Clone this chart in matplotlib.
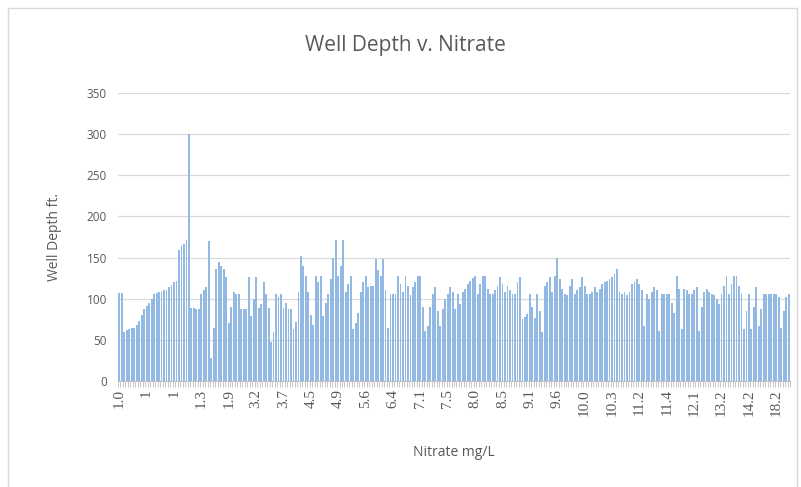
import matplotlib.pyplot as plt
from matplotlib.patches import Rectangle
import numpy as np

# Profundidad de pozos (ft), ordenados por nitrato (lectura aproximada de la imagen)
depth_a = [107, 107, 60, 62, 63, 64, 65, 68, 73, 80,
           87, 91, 95, 100, 106, 107, 108, 108, 110, 111,
           114, 117, 120, 122, 159, 164, 167, 171, 300,
           89, 89, 88, 87, 106, 110, 114, 170, 28, 64,
           136, 145, 140, 136, 126, 71, 90, 108, 106, 106,
           88, 87, 87, 126, 79, 100, 126, 89, 93, 120,
           106, 89, 47, 60, 106, 102, 106, 89, 95, 87]
depth_b = [87, 63, 72, 108, 152, 140, 128, 108, 80, 68,
           128, 120, 128, 79, 95, 106, 124, 150, 171, 128,
           140, 171, 108, 118, 128, 63, 70, 83, 108, 120,
           128, 114, 116, 116, 148, 135, 128, 148, 110, 65,
           106, 106, 106, 128, 118, 108, 128, 115, 104, 114,
           120, 128, 128, 90, 61, 67, 90, 106, 114, 85,
           67, 87, 100, 106, 114, 108, 87, 106]
depth_c = [93, 108, 112, 118, 122, 125, 128, 106, 118, 128,
           128, 112, 106, 106, 110, 116, 126, 118, 108, 116,
           110, 106, 106, 120, 126, 75, 78, 81, 106, 90,
           77, 106, 85, 60, 116, 120, 126, 108, 128, 150,
           124, 112, 106, 104, 115, 124, 106, 110, 114, 126,
           116, 106, 106, 108, 114, 108, 112, 118, 120, 122,
           124, 126, 130, 136, 108, 106, 108, 104]
depth_d = [108, 118, 120, 124, 118, 110, 67, 106, 100, 108,
           114, 110, 61, 106, 106, 106, 106, 95, 83, 128,
           112, 63, 112, 110, 106, 106, 110, 114, 61, 90,
           108, 112, 108, 106, 104, 100, 93, 106, 116, 128,
           106, 118, 128, 128, 115, 106, 63, 85, 106, 63,
           90, 114, 67, 88, 106, 106, 106, 106, 106, 106,
           102, 65, 85, 102, 106]

depth = depth_a + depth_b + depth_c + depth_d

# Etiquetas visibles del eje x (una cada 11 categorias)
etiquetas = ["1.0", "1", "1", "1.3", "1.9", "3.2", "3.7", "4.5", "4.9", "5.6",
             "6.4", "7.1", "7.5", "8.0", "8.5", "9.1", "9.6", "10.0", "10.3",
             "11.2", "11.4", "12.1", "13.2", "14.2", "18.2"]
paso = 11

gris = "#595959"

fig = plt.figure(figsize=(8.01, 4.87), dpi=100)
ax = fig.add_axes([118 / 801, 1 - 381 / 487, 672 / 801, 288 / 487])

x = np.arange(len(depth))
ax.bar(x, depth, width=0.75, color="#92B8E4", edgecolor="none", zorder=2)

ax.set_ylim(0, 350)
ax.set_xlim(-0.5, len(depth) - 0.5)
ax.set_yticks(range(0, 351, 50))
ax.yaxis.grid(True, color="#D9D9D9", linewidth=0.9, zorder=0)
ax.set_axisbelow(True)

for s in ["top", "right", "left"]:
    ax.spines[s].set_visible(False)
ax.spines["bottom"].set_color("#BFBFBF")

ax.tick_params(axis="y", length=0, labelsize=8.5, labelcolor=gris, pad=8)
for lbl in ax.get_yticklabels():
    lbl.set_fontfamily("Open Sans")

ax.set_xticks(x[::paso][:len(etiquetas)])
ax.set_xticklabels(etiquetas, rotation=90, fontsize=11, color=gris,
                   fontfamily="Liberation Serif")
ax.set_xticks(np.arange(len(depth) + 1) - 0.5, minor=True)
ax.tick_params(axis="x", which="major", length=0, pad=6)
ax.tick_params(axis="x", which="minor", length=4, color="#BFBFBF", width=0.6)

ax.set_xlabel("Nitrate mg/L", fontsize=10, color=gris, fontfamily="Open Sans", labelpad=21)
ax.set_ylabel("Well Depth ft.", fontsize=10, color=gris, fontfamily="Open Sans", labelpad=18)

fig.text(0.506, 1 - 46 / 487, "Well Depth v. Nitrate", ha="center", va="center",
         fontsize=15, color=gris, fontfamily="Open Sans")

# borde del area del grafico
fig.patches.append(Rectangle((8 / 801, -0.02), 789 / 801, 1 - 8 / 487 + 0.02,
                             transform=fig.transFigure, fill=False,
                             edgecolor="#D9D9D9", linewidth=1))

fig.savefig("out.png", dpi=100)
